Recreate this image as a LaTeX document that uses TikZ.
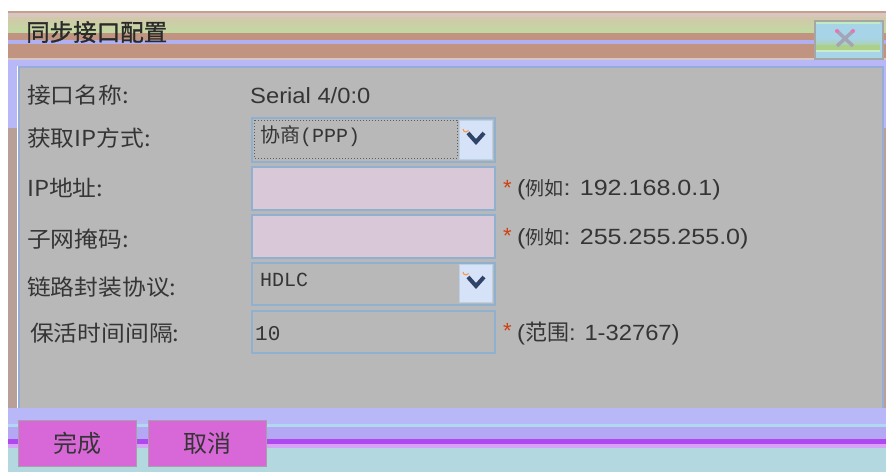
\documentclass[tikz,border=0pt]{standalone}
\usepackage{fontspec}
\setmainfont{Liberation Sans}
\newfontfamily\widesans[FakeStretch=1.08]{Liberation Sans}
\newfontfamily\widersans[FakeStretch=1.14]{Liberation Sans}
\newfontfamily\cjk{Noto Sans CJK SC}
\newfontfamily\cjkw[FakeStretch=1.08]{Noto Sans CJK SC}
\newfontfamily\cjkb[FakeBold=1.2]{Noto Sans CJK SC}
\newfontfamily\monof{Liberation Mono}
\definecolor{bandbrown}{HTML}{C09480}
\definecolor{bandpink}{HTML}{D8C6C2}
\definecolor{bandbeige}{HTML}{D2C8AA}
\definecolor{bandgreen}{HTML}{C0DAA0}
\definecolor{lav}{HTML}{B8B8F8}
\definecolor{lavline}{HTML}{B0B0F0}
\definecolor{panelgray}{HTML}{B8B8B8}
\definecolor{panelborder}{HTML}{98ACD8}
\definecolor{stripbrown}{HTML}{B8A098}
\definecolor{fieldpink}{HTML}{D8C8D8}
\definecolor{fieldborder}{HTML}{90B0D0}
\definecolor{star}{HTML}{D04010}
\definecolor{txt}{HTML}{353535}
\definecolor{btnfill}{HTML}{D868D8}
\definecolor{btnborder}{HTML}{A8A0A8}
\definecolor{lightblue}{HTML}{B4D8E0}
\definecolor{purpleline}{HTML}{B048F0}
\definecolor{midpurple}{HTML}{B4A8F4}
\definecolor{paleblue}{HTML}{B0D8F0}
\definecolor{dropfill}{HTML}{D6E2F8}
\definecolor{chev}{HTML}{304468}
\definecolor{closeblue}{HTML}{A8D4E8}
\definecolor{closegreen}{HTML}{ACD088}
\definecolor{xgray}{HTML}{A4A4B8}
\definecolor{xpink}{HTML}{F070B0}
\tikzset{
  lbl/.style={anchor=west, inner sep=0pt, text=txt, font=\cjkw\fontsize{22}{26}\selectfont},
  val/.style={anchor=west, inner sep=0pt, text=txt, font=\widesans\fontsize{22}{26}\selectfont},
  hint/.style={anchor=west, inner sep=0pt, text=txt, font=\widersans\fontsize{22}{26}\selectfont},
  starmark/.style={anchor=west, inner sep=0pt, text=star, font=\fontsize{22}{26}\selectfont},
  field/.style={draw=fieldborder, line width=2pt, anchor=north west, inner sep=0pt},
  combotext/.style={anchor=west, inner sep=0pt, text=txt, font=\fontsize{20}{24}\selectfont},
  dropbtn/.style={fill=dropfill, draw=fieldborder!60!white, line width=0.6pt, anchor=north west, inner sep=0pt, minimum width=33pt, minimum height=39pt},
  btn/.style={fill=btnfill, draw=btnborder, line width=1.5pt, inner sep=0pt, minimum width=118pt, minimum height=46pt, text=txt, font=\cjk\fontsize{24}{27}\selectfont}
}
\newcommand{\smallcjk}[1]{{\cjk\fontsize{19}{22}\selectfont #1}}
\begin{document}
\begin{tikzpicture}[x=1pt,y=-1pt]
\useasboundingbox (0,0) rectangle (886,472);
\fill[white] (0,0) rectangle (886,472);
% ---- title bar bands
\fill[bandbrown!90!white] (8,11) rectangle (886,13);
\fill[bandpink] (8,13) rectangle (886,17);
\shade[top color=bandbeige, bottom color=bandgreen] (8,17) rectangle (886,33);
\fill[bandbrown] (8,33) rectangle (886,40);
\fill[lavline] (8,40) rectangle (886,44);
\fill[bandbrown] (8,44) rectangle (886,58);
\fill[bandpink] (8,58) rectangle (886,60);
\fill[lav] (8,60) rectangle (886,66);
\node[anchor=west, inner sep=0pt, text=txt!80!black, font=\cjkb\fontsize{23.5}{26}\selectfont] (title) at (26,32) {同步接口配置};
% ---- close button
\node[draw=gray!70, line width=2pt, fill=closeblue, anchor=north west, inner sep=0pt, minimum width=68pt, minimum height=38pt] (close) at (814,20) {};
\shade[top color=closeblue, bottom color=closegreen] (816,38) rectangle (880,50);
\fill[closegreen] (816,45) rectangle (880,50);
\fill[green!20!white!85!gray] (816,22) rectangle (880,24);
\fill[green!15!white!85!gray] (816,50) rectangle (880,52);
\draw[xgray, line width=3.5pt] (837,31) -- (853,46) (853,31) -- (837,46);
\fill[xpink] (837,31) circle (2pt) (853,31) circle (2pt);
% ---- side strips
\fill[lav] (8,60) rectangle (17,128);
\fill[stripbrown] (8,128) rectangle (17,408);
\fill[lav] (882,60) rectangle (886,128);
\fill[stripbrown] (882,128) rectangle (886,408);
% ---- panel
\node[fill=panelgray, draw=panelborder, line width=2pt, anchor=north west, inner sep=0pt, minimum width=864pt, minimum height=342pt] (panel) at (18,66) {};
% ---- labels
\node[lbl] (l1) at (27,95) {接口名称:};
\node[lbl] (l2) at (27,138) {获取IP方式:};
\node[lbl] (l3) at (27,188) {IP地址:};
\node[lbl] (l4) at (27,239) {子网掩码:};
\node[lbl] (l5) at (27,287) {链路封装协议:};
\node[lbl] (l6) at (30,333) {保活时间间隔:};
% ---- row 1 value
\node[val] (v1) at (250,96) {Serial 4/0:0};
% ---- row 2 combo
\node[field, fill=panelgray, minimum width=243pt, minimum height=44pt] (combo1) at (251,117) {};
\draw[txt!80, line width=1pt, dotted] (254,120) rectangle (457,158);
\node[combotext] (c1t) at (260,136) {{\cjk 协商}{\monof (PPP)}};
\node[dropbtn] (drop1) at (459,120) {};
\draw[orange!70!pink, line width=1pt] (463,129) arc (180:330:3pt);
\draw[chev, line width=4pt] (468,133) -- (476,142) -- (484,133);
% ---- row 3 IP field
\node[field, fill=fieldpink, minimum width=243pt, minimum height=43pt] (ip) at (251,166) {};
\node[starmark] (s1) at (503,188) {*};
\node[hint] (h1) at (517,190) {(\smallcjk{例如}: 192.168.0.1)};
% ---- row 4 mask field
\node[field, fill=fieldpink, minimum width=243pt, minimum height=43pt] (mask) at (251,214) {};
\node[starmark] (s2) at (503,236) {*};
\node[hint] (h2) at (517,239) {(\smallcjk{例如}: 255.255.255.0)};
% ---- row 5 combo
\node[field, fill=panelgray, minimum width=243pt, minimum height=42pt] (combo2) at (251,262) {};
\node[combotext] (c2t) at (260,280) {\monof HDLC};
\node[dropbtn, minimum height=38pt] (drop2) at (459,264) {};
\draw[orange!70!pink, line width=1pt] (463,272) arc (180:330:3pt);
\draw[chev, line width=4pt] (468,277) -- (476,286) -- (484,277);
% ---- row 6 keepalive field
\node[field, fill=panelgray, minimum width=243pt, minimum height=42pt] (keep) at (251,310) {};
\node[combotext, font=\monof\fontsize{21}{24}\selectfont] (kv) at (255,334) {10};
\node[starmark] (s3) at (503,331) {*};
\node[hint, font=\widesans\fontsize{22}{26}\selectfont] (h3) at (517,334) {({\cjk 范围}: 1-32767)};
% ---- bottom bands
\fill[lav] (8,408) rectangle (886,424);
\fill[paleblue] (8,424) rectangle (886,427);
\fill[midpurple] (8,427) rectangle (886,439);
\fill[purpleline] (8,439) rectangle (886,444);
\fill[purpleline!50!white] (8,444) rectangle (886,448);
\fill[lightblue] (8,448) rectangle (886,472);
% ---- buttons
\node[btn] (done) at (77.5,443.5) {完成};
\node[btn] (cancel) at (207.5,443.5) {取消};
\end{tikzpicture}
\end{document}
